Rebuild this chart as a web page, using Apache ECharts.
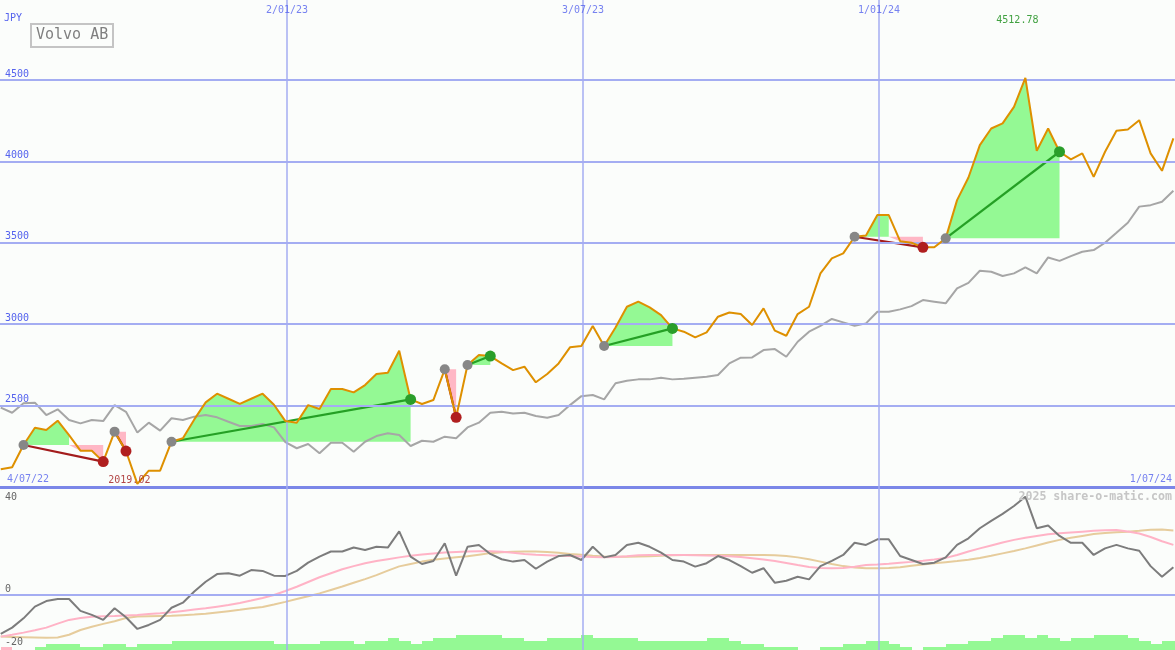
<!DOCTYPE html>
<html><head><meta charset="utf-8">
<script src="https://cdn.jsdelivr.net/npm/echarts@6/dist/echarts.min.js"></script>
<style>html,body{margin:0;padding:0;background:#fbfdfb}#c{width:1175px;height:650px}</style>
</head><body><div id="c"></div><script>
// ---------- DATA ----------
const DAY = 86400000;
const FIRST_WEEK = Date.UTC(2022, 6, 10);
const WEEKS = 104;
const dates = Array.from({length: WEEKS}, (_, i) => FIRST_WEEK + i * 7 * DAY);

const price = [2109,2121,2258,2364,2350,2407,2319,2223,2223,2156,
  2340,2221,2019.02,2100,2100,2278,2299,2415,2520,2573,
  2542,2510,2542,2573,2505,2405,2395,2503,2479,2602,
  2602,2581,2626,2694,2702,2837,2538,2510,2534,2723,
  2428,2749,2810,2804,2759,2718,2739,2643,2694,2759,
  2858,2866,2989,2866,2980,3107,3138,3103,3056,2974,
  2954,2919,2950,3046,3072,3062,2995,3097,2960,2929,
  3062,3107,3312,3404,3435,3537,3545,3670,3670,3510,
  3500,3472,3472,3527,3762,3901,4100,4202,4233,4335,
  4512.78,4065,4202,4059,4012,4049,3905,4059,4188,4196,
  4253,4049,3942,4141];

const movingAvg = [2487,2456,2514,2518,2442,2477,2411,2391,2411,2405,
  2503,2462,2334,2395,2346,2422,2411,2432,2442,2428,
  2401,2375,2375,2387,2366,2275,2238,2264,2207,2272,
  2272,2217,2278,2313,2330,2319,2252,2284,2278,2309,
  2299,2366,2395,2456,2462,2452,2456,2436,2425,2442,
  2503,2558,2565,2538,2637,2653,2661,2661,2671,2661,
  2665,2671,2677,2688,2759,2794,2796,2841,2847,2800,
  2892,2954,2989,3032,3011,2990,3005,3076,3076,3091,
  3111,3148,3138,3128,3220,3254,3328,3322,3296,3312,
  3349,3312,3410,3389,3418,3445,3455,3500,3561,3623,
  3722,3731,3752,3819];

const oscillator = [-14.7,-12.3,-8.8,-4.4,-2.3,-1.5,-1.5,-6.0,-7.5,-9.4,
  -5.0,-8.4,-12.8,-11.3,-9.4,-4.8,-2.9,1.3,5.0,7.9,
  8.2,7.3,9.4,9.1,7.3,7.2,9.1,12.2,14.5,16.4,
  16.4,17.9,17.0,18.2,17.9,24.0,14.5,11.7,12.8,19.5,
  7.3,18.2,18.9,15.5,13.5,12.6,13.2,9.9,12.6,14.7,
  15.1,13.2,18.2,14.2,15.1,18.9,19.7,18.2,16.0,13.2,
  12.6,10.7,12.0,14.7,13.2,10.9,8.4,10.1,4.6,5.4,
  6.9,5.9,10.9,12.9,15.1,19.7,18.9,21.0,21.0,14.7,
  13.2,11.7,12.2,14.2,18.9,21.4,25.2,28.0,30.6,33.6,
  37.1,25.2,26.2,22.3,19.7,19.7,15.1,17.6,18.9,17.6,
  16.7,10.9,6.9,10.5];

const signalFast = [-15.7,-15.0,-14.2,-13.3,-12.3,-10.8,-9.4,-8.7,-8.2,-8.0,
  -7.9,-7.7,-7.5,-7.2,-6.9,-6.5,-6.0,-5.5,-5.0,-4.4,
  -3.8,-3.0,-2.1,-1.1,0.0,1.5,3.1,4.9,6.7,8.2,
  9.7,10.9,12.0,12.8,13.5,14.2,14.8,15.3,15.7,16.0,
  16.2,16.4,16.5,16.5,16.3,15.9,15.5,15.2,15.0,14.8,
  14.7,14.5,14.3,14.2,14.3,14.6,15.0,15.1,15.1,15.1,
  15.1,15.0,14.9,14.8,14.6,14.3,13.9,13.4,12.8,12.1,
  11.3,10.6,10.2,10.1,10.2,10.7,11.3,11.5,11.8,12.2,
  12.5,12.9,13.4,14.0,15.1,16.4,17.6,18.7,19.8,20.8,
  21.6,22.3,22.9,23.3,23.6,23.9,24.2,24.4,24.5,24.0,
  23.2,21.9,20.3,18.9];

const signalSlow = [-15.7,-15.8,-15.9,-16.0,-16.1,-16.0,-15.0,-13.2,-12.0,-10.9,
  -9.9,-8.7,-8.1,-8.0,-7.9,-7.8,-7.6,-7.4,-7.1,-6.6,
  -6.1,-5.6,-5.0,-4.5,-3.6,-2.6,-1.5,-0.5,0.6,1.9,
  3.2,4.6,6.0,7.5,9.2,10.8,11.7,12.6,13.3,13.8,
  14.2,14.6,15.2,15.8,16.1,16.3,16.4,16.4,16.2,15.9,
  15.5,15.2,14.8,14.5,14.4,14.4,14.5,14.6,14.8,15.0,
  15.1,15.1,15.1,15.1,15.1,15.1,15.1,15.1,15.0,14.7,
  14.2,13.5,12.6,11.7,10.9,10.4,10.1,10.1,10.2,10.5,
  11.0,11.5,12.0,12.4,12.8,13.3,14.0,14.8,15.7,16.6,
  17.6,18.7,19.8,20.8,21.6,22.3,23.0,23.4,23.7,23.9,
  24.2,24.6,24.7,24.3];

const volume = [1,0,0,1,2,2,2,1,1,2,
  2,1,2,2,2,3,3,3,3,3,
  3,3,3,3,2,2,2,2,3,3,
  3,2,3,3,4,3,2,3,4,4,
  5,5,5,5,4,4,3,3,4,4,
  4,5,4,4,4,4,3,3,3,3,
  3,3,4,4,3,2,2,1,1,1,
  0,0,1,1,2,2,3,3,2,1,
  0,1,1,2,2,3,3,4,5,5,
  4,5,4,3,4,4,5,5,5,4,
  3,2,3,3];
const volumeDownWeeks = [0];

// trades: [entry week, exit week, result]
const trades = [[2,9,'loss'],[10,11,'loss'],[15,36,'gain'],[39,40,'loss'],[41,43,'gain'],[53,59,'gain'],[75,81,'loss'],[83,93,'gain']];
// shaded runs relative to the entry price: [from week, to week, entry week, side]
const shades = [[2,6,2,'up'],[6,9,2,'down'],[10,11,10,'down'],[15,36,15,'up'],[39,40,39,'down'],[41,43,41,'up'],[53,59,53,'up'],[75,78,75,'up'],[78,81,75,'down'],[83,93,83,'up']];

const priceTicks = [2500, 3000, 3500, 4000, 4500];
const markDates = [Date.UTC(2023,0,2), Date.UTC(2023,6,3), Date.UTC(2024,0,1)];
const markDateLabels = ['2/01/23', '3/07/23', '1/01/24'];
const rangeLabels = ['4/07/22', '1/07/24'];
const oscLabelTicks = [40, 0, -20];
const currency = 'JPY';
const stockName = 'Volvo AB';
const watermark = '2025 share-o-matic.com';

// ---------- LAYOUT ----------
const X_MIN = FIRST_WEEK - 0.46 * DAY;
const X_MAX = Date.UTC(2024, 6, 1);
const Y_MIN = 2000, Y_MAX = 4991;
const O_MIN = -20.75, O_MAX = 40.75;
const FONT = 'DejaVu Sans Mono';
const BLUE_TXT = '#5563ee';
const GRID_BLUE = '#a4adf2';
const GREEN_FILL = '#94f994';
const PINK_FILL = '#ffb7c5';

let minIdx = 0, maxIdx = 0;
price.forEach((v, i) => { if (v < price[minIdx]) minIdx = i; if (v > price[maxIdx]) maxIdx = i; });

const chart = echarts.init(document.getElementById('c'), null, {renderer: 'canvas'});

const vLineItems = markDates.map(d => ({xAxis: d, label: {show: false}, lineStyle: {color: GRID_BLUE, width: 1.5, type: 'solid'}}));

const option = {
  backgroundColor: '#fbfdfb',
  animation: false,
  title: [
    {text: stockName, left: 31, top: 24, padding: [4, 5], borderColor: '#c4c4c4', borderWidth: 2,
     textStyle: {fontFamily: FONT, fontSize: 15, fontWeight: 'normal', color: '#7f7f7f'}},
    {text: currency, left: 4, top: 13, padding: 0, textStyle: {fontFamily: FONT, fontSize: 10, fontWeight: 'normal', color: BLUE_TXT}},
    {text: watermark, right: 3, top: 491, padding: 0, textStyle: {fontFamily: FONT, fontSize: 11.6, fontWeight: 'bold', color: '#c6c6c6'}}
  ],
  grid: [
    {left: 0, right: 0, top: 0, height: 487},
    {left: 0, right: 0, top: 487, height: 163}
  ],
  xAxis: [
    {type: 'time', gridIndex: 0, min: X_MIN, max: X_MAX,
     axisLine: {show: true, onZero: false, lineStyle: {color: '#7b87e8', width: 3}},
     axisTick: {show: false}, axisLabel: {show: false}, splitLine: {show: false}},
    {type: 'time', gridIndex: 1, min: X_MIN, max: X_MAX, show: false}
  ],
  yAxis: [
    {type: 'value', gridIndex: 0, min: Y_MIN, max: Y_MAX, show: false},
    {type: 'value', gridIndex: 1, min: O_MIN, max: O_MAX, show: false},
    {type: 'value', gridIndex: 1, min: 0, max: 54.33, show: false}
  ],
  series: [
    {
      name: 'upper grid', type: 'line', xAxisIndex: 0, yAxisIndex: 0, data: [], z: 1, silent: true,
      markLine: {
        silent: true, symbol: ['none', 'none'], animation: false,
        lineStyle: {color: GRID_BLUE, width: 2, type: 'solid'},
        label: {show: true, position: 'insideStartTop', distance: [5, 1], formatter: p => String(p.value),
                color: BLUE_TXT, fontFamily: FONT, fontSize: 10},
        data: priceTicks.map(v => ({yAxis: v})).concat(vLineItems)
      }
    },
    {
      name: 'lower grid', type: 'line', xAxisIndex: 1, yAxisIndex: 1, data: [], z: 1, silent: true,
      markLine: {
        silent: true, symbol: ['none', 'none'], animation: false,
        lineStyle: {color: GRID_BLUE, width: 2, type: 'solid'},
        label: {show: true, position: 'insideStartTop', distance: [5, 1], formatter: p => String(p.value),
                color: '#666666', fontFamily: FONT, fontSize: 10},
        data: oscLabelTicks.map(v => ({
          yAxis: v,
          lineStyle: {color: v === 0 ? GRID_BLUE : 'rgba(0,0,0,0)'},
          label: v === oscLabelTicks[0] ? {position: 'insideStartBottom', distance: [5, 3]} : {position: 'insideStartTop'}
        })).concat(vLineItems)
      }
    },
    {
      name: 'shades', type: 'custom', xAxisIndex: 0, yAxisIndex: 0, z: 2, silent: true,
      data: shades.map(s => [dates[s[0]], price[s[2]]]),
      encode: {x: 0, y: 1},
      renderItem: function (params, api) {
        const s = shades[params.dataIndex];
        const base = price[s[2]];
        const pts = [];
        for (let k = s[0]; k <= s[1]; k++) {
          const v = s[3] === 'up' ? Math.max(price[k], base) : Math.min(price[k], base);
          pts.push(api.coord([dates[k], v]));
        }
        pts.push(api.coord([dates[s[1]], base]));
        pts.push(api.coord([dates[s[0]], base]));
        return {type: 'polygon', shape: {points: pts}, style: {fill: s[3] === 'up' ? GREEN_FILL : PINK_FILL}};
      }
    },
    {
      name: 'average', type: 'line', xAxisIndex: 0, yAxisIndex: 0, z: 3, symbol: 'none', silent: true,
      data: movingAvg.map((v, i) => [dates[i], v]),
      lineStyle: {color: '#a6a6a6', width: 2}
    },
    {
      name: 'trades', type: 'custom', xAxisIndex: 0, yAxisIndex: 0, z: 4, silent: true,
      data: trades.map(t => [dates[t[0]], price[t[0]], dates[t[1]], price[t[1]]]),
      encode: {x: [0, 2], y: [1, 3]},
      renderItem: function (params, api) {
        const t = trades[params.dataIndex];
        const a = api.coord([api.value(0), api.value(1)]);
        const b = api.coord([api.value(2), api.value(3)]);
        return {type: 'line', shape: {x1: a[0], y1: a[1], x2: b[0], y2: b[1]},
                style: {stroke: t[2] === 'gain' ? '#25a025' : '#a31c1c', lineWidth: 2.2}};
      }
    },
    {
      name: 'price', type: 'line', xAxisIndex: 0, yAxisIndex: 0, z: 5, symbol: 'none', silent: true,
      data: price.map((v, i) => [dates[i], v]),
      lineStyle: {color: '#de9000', width: 2}
    },
    {
      name: 'entries', type: 'scatter', xAxisIndex: 0, yAxisIndex: 0, z: 6, silent: true,
      symbolSize: 10, itemStyle: {color: '#878787', opacity: 1},
      data: trades.map(t => [dates[t[0]], price[t[0]]])
    },
    {
      name: 'loss exits', type: 'scatter', xAxisIndex: 0, yAxisIndex: 0, z: 6, silent: true,
      symbolSize: 11, itemStyle: {color: '#b01f1f', opacity: 1},
      data: trades.filter(t => t[2] === 'loss').map(t => [dates[t[1]], price[t[1]]])
    },
    {
      name: 'gain exits', type: 'scatter', xAxisIndex: 0, yAxisIndex: 0, z: 6, silent: true,
      symbolSize: 11, itemStyle: {color: '#2a9e2a', opacity: 1},
      data: trades.filter(t => t[2] === 'gain').map(t => [dates[t[1]], price[t[1]]])
    },
    {
      name: 'date labels', type: 'scatter', xAxisIndex: 0, yAxisIndex: 0, z: 7, silent: true, symbolSize: 0,
      data: markDates.map((d, i) => [d, Y_MAX, markDateLabels[i]]),
      label: {show: true, position: 'bottom', distance: 5, formatter: p => p.value[2],
              color: BLUE_TXT, fontFamily: FONT, fontSize: 10}
    },
    {
      name: 'range labels', type: 'scatter', xAxisIndex: 0, yAxisIndex: 0, z: 7, silent: true, symbolSize: 0,
      data: [
        {value: [X_MIN, Y_MIN, rangeLabels[0]], label: {position: 'right', distance: 7}},
        {value: [X_MAX, Y_MIN, rangeLabels[1]], label: {position: 'left', distance: 3}}
      ],
      label: {show: true, offset: [0, -8], formatter: p => p.value[2],
              color: BLUE_TXT, fontFamily: FONT, fontSize: 10}
    },
    {
      name: 'extremes', type: 'scatter', xAxisIndex: 0, yAxisIndex: 0, z: 7, silent: true, symbolSize: 0,
      data: [
        {value: [dates[minIdx], Y_MIN, price[minIdx].toFixed(2)], label: {position: 'top', distance: 2, color: '#a01818'}},
        {value: [dates[maxIdx], Y_MAX, price[maxIdx].toFixed(2)], label: {position: 'bottom', distance: 15, color: '#128a12'}}
      ],
      label: {show: true, offset: [-8, 0], formatter: p => p.value[2], fontFamily: FONT, fontSize: 10}
    },
    {
      name: 'volume', type: 'custom', xAxisIndex: 1, yAxisIndex: 2, z: 2, silent: true,
      data: volume.map((v, i) => [dates[i], v]),
      encode: {x: 0, y: 1},
      renderItem: function (params, api) {
        const i = params.dataIndex;
        const a = api.coord([api.value(0), 0]);
        const b = api.coord([api.value(0) + 7 * DAY, api.value(1)]);
        const x0 = Math.round(a[0]), x1 = Math.round(b[0]);
        const y0 = Math.round(a[1]), y1 = Math.round(b[1]);
        return {type: 'rect', shape: {x: x0, y: y1, width: x1 - x0, height: y0 - y1},
                style: {fill: volumeDownWeeks.indexOf(i) >= 0 ? PINK_FILL : GREEN_FILL}};
      }
    },
    {
      name: 'slow', type: 'line', xAxisIndex: 1, yAxisIndex: 1, z: 3, symbol: 'none', silent: true,
      data: signalSlow.map((v, i) => [dates[i], v]), lineStyle: {color: '#e6cc9c', width: 2}
    },
    {
      name: 'fast', type: 'line', xAxisIndex: 1, yAxisIndex: 1, z: 3, symbol: 'none', silent: true,
      data: signalFast.map((v, i) => [dates[i], v]), lineStyle: {color: '#ffb3c6', width: 2}
    },
    {
      name: 'oscillator', type: 'line', xAxisIndex: 1, yAxisIndex: 1, z: 4, symbol: 'none', silent: true,
      data: oscillator.map((v, i) => [dates[i], v]), lineStyle: {color: '#7c7c7c', width: 2}
    }
  ]
};
chart.setOption(option);
</script></body></html>
